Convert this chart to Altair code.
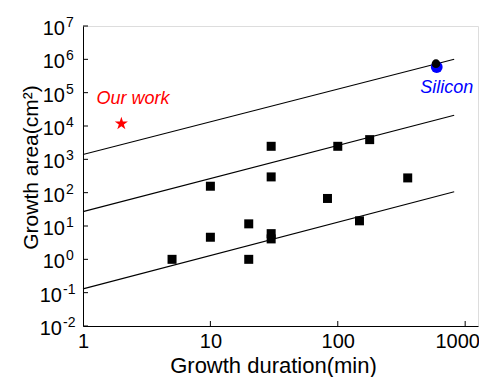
import altair as alt
import pandas as pd

# ---- data ----
sq_x = [5, 10, 10, 20, 20, 30, 30, 30, 30, 83, 100, 148, 178, 354]
sq_y = [1.0, 4.6, 156, 1.0, 11.6, 2460, 297, 5.9, 4.1, 67, 2460, 14.3, 3900, 277]

star_x = [2.0]
star_y = [1.18e4]

si_blue_x = [598]
si_blue_y = [5.9e5]
si_black_x = [590]
si_black_y = [7.4e5]

line_names = ["upper", "middle", "lower"]
line_x_start = [1, 1, 1]
line_x_end = [820, 820, 820]
line_y_start = [1400, 27, 0.13]
line_y_end = [1.0e6, 2.1e4, 106]

x_ticks = [1, 10, 100, 1000]
x_minor_ticks = [10, 100, 1000]
y_exps = [-2, -1, 0, 1, 2, 3, 4, 5, 6, 7]

ourwork_text = ["Our work"]
ourwork_x = [2.47]
ourwork_y = [4.69e4]
silicon_text = ["Silicon"]
silicon_x = [716]
silicon_y = [9.7e4]

FONT = "Liberation Sans"
STAR = ("M0,-1L0.2245,-0.309L0.951,-0.309L0.363,0.118L0.588,0.809L0,0.382"
        "L-0.588,0.809L-0.363,0.118L-0.951,-0.309L-0.2245,-0.309Z")

# ---- tables ----
sq_df = pd.DataFrame({"x": sq_x, "y": sq_y})
star_df = pd.DataFrame({"x": star_x, "y": star_y})
blue_df = pd.DataFrame({"x": si_blue_x, "y": si_blue_y})
black_df = pd.DataFrame({"x": si_black_x, "y": si_black_y})
rows = []
for n, x0, x1, y0, y1 in zip(line_names, line_x_start, line_x_end, line_y_start, line_y_end):
    rows.append({"g": n, "x": x0, "y": y0})
    rows.append({"g": n, "x": x1, "y": y1})
line_df = pd.DataFrame(rows)
ow_df = pd.DataFrame({"t": ourwork_text, "x": ourwork_x, "y": ourwork_y})
si_df = pd.DataFrame({"t": silicon_text, "x": silicon_x, "y": silicon_y})
ylab_df = pd.DataFrame({"e": y_exps, "y": [10.0 ** e for e in y_exps],
                        "es": [str(e) for e in y_exps]})
xt_df = pd.DataFrame({"x": x_minor_ticks})

xs = alt.Scale(type="log", domain=[1, 1261], nice=False)
ys = alt.Scale(type="log", domain=[0.01, 1e7], nice=False)

def X():
    return alt.X("x:Q", scale=xs, axis=alt.Axis(
        values=x_ticks, format="d", ticks=False, grid=False,
        labelFont=FONT, labelFontSize=20, labelColor="black", labelFlush=False,
        labelBaseline="alphabetic", labelPadding=21, labelAngle=0,
        labelOffset={"condition": {"test": "datum.value >= 1000", "value": -8}, "value": 0},
        domainColor="black", domainWidth=1,
        title="Growth duration(min)", titleFont=FONT, titleFontSize=22,
        titleFontWeight="normal", titleColor="black", titleX=190, titleY=46,
        titleBaseline="alphabetic", titleAlign="center"))

def Y():
    return alt.Y("y:Q", scale=ys, axis=alt.Axis(
        labels=False, ticks=False, grid=False,
        domainColor="black", domainWidth=1,
        title="Growth area(cm²)", titleFont=FONT, titleFontSize=21,
        titleFontWeight="normal", titleColor="black", titleX=-46, titleY=141,
        titleBaseline="alphabetic", titleAlign="center", titleAngle=270))

lines = alt.Chart(line_df).mark_line(color="black", strokeWidth=1.1).encode(
    x=X(), y=Y(), detail="g:N")

squares = alt.Chart(sq_df).mark_point(shape="square", filled=True, size=81,
                                      color="black", opacity=1).encode(x=X(), y=Y())
star = alt.Chart(star_df).mark_point(shape=STAR, filled=True, size=190,
                                     color="#ff0000", opacity=1).encode(x=X(), y=Y())
blue = alt.Chart(blue_df).mark_point(shape="circle", filled=True, size=140,
                                     color="#0000ff", opacity=1).encode(x=X(), y=Y())
black = alt.Chart(black_df).mark_point(shape="circle", filled=True, size=75,
                                       color="black", opacity=1).encode(x=X(), y=Y())

ow = alt.Chart(ow_df).mark_text(font=FONT, fontSize=18, fontStyle="italic", color="#ff0000",
                                align="center", baseline="alphabetic").encode(
    x=X(), y=Y(), text="t:N")
si = alt.Chart(si_df).mark_text(font=FONT, fontSize=18, fontStyle="italic", color="#0000ff",
                                align="center", baseline="alphabetic").encode(
    x=X(), y=Y(), text="t:N")

# inward tick marks
ytick = alt.Chart(ylab_df).mark_rule(color="black", strokeWidth=1).encode(
    y=Y(), x=alt.value(0), x2=alt.value(5))
xtick = alt.Chart(xt_df).mark_rule(color="black", strokeWidth=1).encode(
    x=X(), y=alt.value(300), y2=alt.value(295))

# y tick labels with superscript exponents
neg = alt.datum.e < 0
pos = alt.datum.e >= 0
ten_neg = alt.Chart(ylab_df).transform_filter(neg).mark_text(
    font=FONT, fontSize=20, color="black", align="right", baseline="alphabetic", dy=9).encode(
    y=Y(), x=alt.value(-21), text=alt.value("10"))
ten_pos = alt.Chart(ylab_df).transform_filter(pos).mark_text(
    font=FONT, fontSize=20, color="black", align="right", baseline="alphabetic", dy=9).encode(
    y=Y(), x=alt.value(-18), text=alt.value("10"))
exp_neg = alt.Chart(ylab_df).transform_filter(neg).mark_text(
    font=FONT, fontSize=14, color="black", align="left", baseline="alphabetic", dy=1).encode(
    y=Y(), x=alt.value(-20), text="es:N")
exp_pos = alt.Chart(ylab_df).transform_filter(pos).mark_text(
    font=FONT, fontSize=14, color="black", align="left", baseline="alphabetic", dy=1).encode(
    y=Y(), x=alt.value(-17), text="es:N")

chart = alt.layer(lines, squares, blue, black, star, ow, si, ytick, xtick,
                  ten_neg, ten_pos, exp_neg, exp_pos).properties(
    width=395, height=300, autosize="none",
    padding={"left": 75, "top": 18, "right": 1, "bottom": 51}
).configure_view(stroke="#555555", strokeWidth=1).configure(background="white")

chart.save("out.html", embed_options={"renderer": "svg", "actions": False})
